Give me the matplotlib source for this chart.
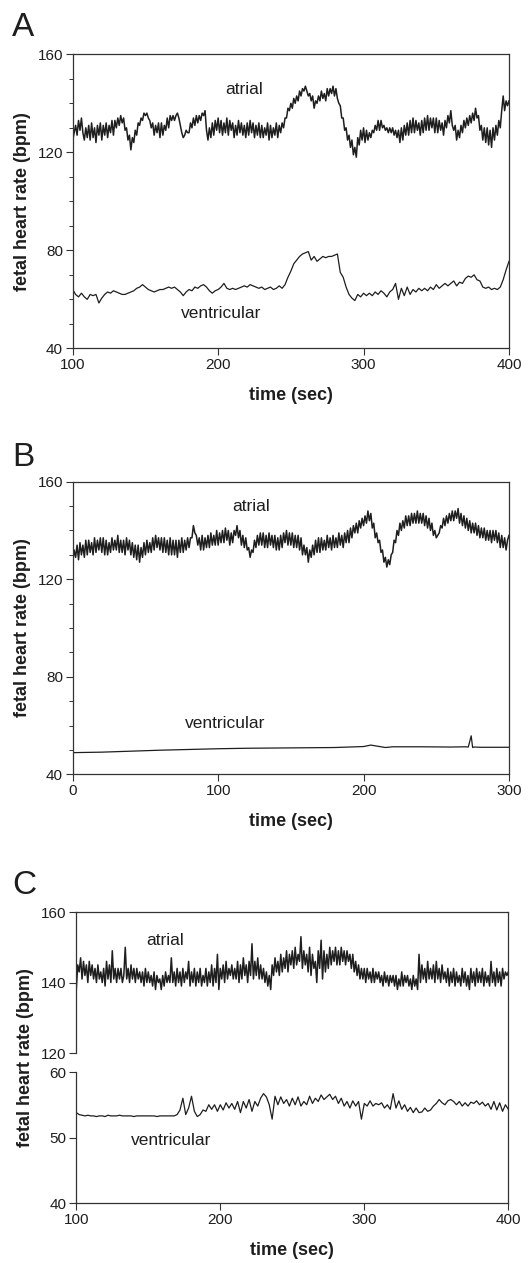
import numpy as np
import matplotlib
matplotlib.use('Agg')
import matplotlib.pyplot as plt
from matplotlib.ticker import MultipleLocator, FixedLocator, FormatStrFormatter
from matplotlib.transforms import blended_transform_factory

plt.rcParams['font.family'] = ['Liberation Sans', 'DejaVu Sans']

INK = '#1e1e1e'

# panel A: atrial read every 1 s, ventricular every 2 s (100-400 s)
t_a = np.arange(100, 401, 1)
atrial_a = [125, 128, 131, 127, 133, 129, 134, 128, 125, 130,
            126, 131, 125, 132, 126, 130, 124, 131, 127, 132,
            125, 131, 127, 132, 126, 131, 128, 133, 127, 133,
            130, 134, 131, 135, 132, 134, 129, 130, 125, 127,
            121, 126, 124, 129, 127, 132, 131, 134, 133, 136,
            135, 136, 134, 133, 130, 132, 127, 131, 128, 132,
            126, 132, 127, 131, 129, 134, 130, 135, 133, 135,
            133, 135, 136, 134, 131, 128, 126, 127, 129, 128,
            128, 132, 130, 134, 131, 135, 132, 135, 133, 136,
            135, 137, 129, 125, 130, 126, 132, 127, 133, 129,
            134, 128, 133, 127, 132, 128, 134, 127, 133, 129,
            132, 126, 131, 127, 133, 128, 132, 127, 131, 126,
            132, 127, 133, 128, 132, 126, 131, 127, 132, 126,
            131, 126, 130, 127, 132, 125, 131, 126, 130, 127,
            132, 126, 131, 128, 132, 130, 134, 134, 138, 137,
            140, 138, 142, 140, 143, 141, 145, 143, 146, 145,
            147, 145, 143, 144, 141, 143, 138, 141, 140, 143,
            141, 145, 142, 144, 141, 146, 143, 146, 144, 147,
            143, 146, 142, 140, 139, 134, 134, 129, 130, 125,
            127, 122, 125, 119, 122, 118, 126, 123, 129, 125,
            130, 124, 129, 125, 128, 126, 129, 128, 131, 129,
            133, 129, 133, 130, 131, 129, 130, 128, 130, 128,
            130, 127, 129, 126, 129, 124, 130, 125, 131, 127,
            132, 127, 133, 128, 134, 128, 133, 129, 132, 127,
            133, 128, 134, 129, 135, 129, 134, 130, 134, 128,
            134, 128, 133, 129, 132, 127, 133, 130, 135, 132,
            137, 131, 129, 131, 125, 129, 126, 131, 128, 133,
            130, 134, 131, 135, 132, 136, 133, 138, 134, 135,
            129, 131, 125, 130, 124, 130, 123, 129, 122, 130,
            125, 131, 127, 133, 130, 137, 143, 137, 141, 139,
            141]
t_av = np.arange(100, 401, 2)
ventricular_a = [64, 62, 61, 62.5, 61, 60, 62, 61.5, 62, 58.5, 60.5, 62, 63, 62.5, 63.5, 63,
                 62.5, 62, 62, 62.5, 63, 63.5, 64.5, 65, 66, 65, 64, 63.5, 63, 63.5, 64, 64,
                 64.5, 65, 64.5, 65, 64, 63, 61.5, 63, 64, 63.5, 65, 64.5, 65.5, 66, 65, 63.5,
                 62.5, 63.5, 64, 65, 66.5, 64.5, 64, 64.5, 64, 64.5, 65, 65.5, 65, 66, 65.5, 65,
                 64.5, 65, 64, 64.5, 65, 64, 64.5, 65.5, 64.5, 66, 69, 71.5, 74.5, 76, 77.5, 78.5,
                 79, 79.5, 76, 77.5, 75.5, 76.5, 77.5, 77, 77.5, 77.5, 78, 78.5, 71, 69, 65, 62,
                 60.5, 59.5, 62, 61, 62.5, 61.5, 62.5, 61.5, 63, 62, 63.5, 62.5, 61, 63, 64, 66.5,
                 60, 64.5, 61.5, 65, 62, 64, 63, 64.5, 63.5, 64.5, 63.5, 65, 64, 66, 64.5, 65.5,
                 66.5, 65.5, 66.5, 67.5, 65.5, 67, 66.5, 68.5, 69.5, 69, 70, 68, 67.5, 65, 64.5,
                 65, 64, 64.5, 64, 65, 68, 72, 75.5]

# panel B: 0-300 s
t_b = np.arange(0, 301, 1)
atrial_b = [127, 132, 129, 134, 128, 135, 130, 134, 129, 136,
            130, 136, 131, 135, 130, 137, 131, 136, 132, 137,
            131, 137, 130, 136, 130, 135, 131, 137, 132, 136,
            132, 138, 131, 136, 131, 136, 130, 137, 132, 136,
            130, 135, 129, 134, 128, 134, 127, 133, 129, 135,
            130, 136, 131, 135, 131, 137, 132, 138, 133, 137,
            132, 137, 131, 137, 131, 136, 130, 137, 130, 136,
            130, 136, 129, 136, 131, 137, 131, 136, 132, 137,
            133, 137, 137, 142, 139, 138, 134, 137, 132, 138,
            132, 137, 133, 138, 133, 139, 134, 138, 134, 140,
            134, 139, 135, 140, 135, 141, 136, 140, 134, 139,
            135, 140, 138, 142, 137, 140, 134, 138, 133, 137,
            132, 133, 129, 132, 131, 136, 133, 138, 134, 139,
            134, 139, 133, 138, 133, 139, 134, 138, 133, 138,
            132, 137, 132, 138, 133, 139, 135, 140, 134, 139,
            134, 139, 133, 138, 133, 138, 132, 137, 130, 134,
            130, 133, 127, 132, 129, 134, 130, 136, 131, 137,
            131, 137, 132, 136, 132, 138, 133, 137, 132, 138,
            133, 137, 133, 139, 134, 138, 133, 139, 135, 140,
            135, 141, 137, 142, 139, 143, 139, 144, 141, 145,
            142, 146, 143, 148, 144, 147, 141, 143, 137, 139,
            135, 136, 131, 132, 127, 129, 125, 128, 126, 130,
            131, 136, 135, 140, 138, 143, 140, 144, 141, 146,
            142, 146, 142, 147, 143, 147, 143, 148, 143, 147,
            143, 147, 142, 146, 141, 145, 140, 143, 138, 140,
            137, 138, 139, 142, 141, 145, 142, 146, 143, 147,
            144, 148, 144, 148, 145, 149, 143, 147, 142, 146,
            141, 145, 140, 144, 139, 143, 139, 143, 138, 142,
            137, 141, 137, 141, 136, 140, 136, 140, 135, 140,
            136, 140, 135, 139, 133, 138, 133, 137, 132, 136,
            138]
t_bv = [0, 20, 40, 60, 80, 100, 120, 140, 160, 180, 200, 205, 210, 215, 220, 240, 260, 270,
        272, 273, 274, 275, 276, 280, 300]
ventricular_b = [48.9, 49.1, 49.5, 49.9, 50.2, 50.5, 50.7, 50.8, 50.9, 51.0, 51.4, 52.0, 51.5,
                 51.0, 51.3, 51.3, 51.2, 51.3, 51.2, 53.5, 55.8, 51.0, 51.2, 51.1, 51.1]

# panel C: 100-400 s, broken y axis
t_c = np.arange(100, 401, 1)
atrial_c = [138, 145, 143, 147, 141, 146, 142, 145, 140, 146,
            142, 145, 141, 144, 140, 145, 141, 143, 140, 144,
            139, 146, 141, 145, 140, 149, 141, 144, 140, 144,
            141, 144, 140, 142, 150, 141, 144, 140, 145, 141,
            144, 140, 144, 141, 143, 140, 143, 139, 144, 140,
            143, 140, 142, 139, 143, 138, 142, 140, 141, 138,
            142, 139, 143, 140, 142, 140, 147, 140, 143, 139,
            144, 140, 143, 139, 144, 140, 143, 141, 146, 139,
            143, 140, 144, 139, 143, 140, 144, 139, 142, 140,
            144, 139, 143, 140, 145, 139, 144, 140, 148, 138,
            144, 141, 145, 140, 146, 141, 144, 142, 145, 141,
            144, 141, 146, 140, 145, 141, 147, 142, 145, 140,
            146, 142, 151, 141, 146, 142, 147, 141, 145, 141,
            144, 140, 143, 139, 142, 138, 145, 142, 147, 143,
            146, 142, 148, 143, 147, 144, 149, 143, 148, 145,
            149, 144, 150, 145, 148, 146, 153, 144, 149, 145,
            148, 143, 150, 142, 148, 144, 146, 140, 149, 144,
            152, 141, 149, 143, 148, 144, 150, 145, 149, 146,
            150, 145, 149, 145, 150, 146, 149, 145, 149, 146,
            148, 144, 148, 143, 146, 142, 145, 141, 144, 141,
            144, 140, 144, 141, 143, 140, 144, 140, 143, 141,
            143, 140, 142, 139, 143, 140, 142, 139, 142, 140,
            142, 139, 142, 138, 141, 139, 143, 139, 142, 140,
            142, 139, 141, 138, 142, 139, 141, 138, 148, 140,
            145, 141, 144, 140, 146, 141, 144, 141, 145, 140,
            146, 141, 144, 140, 145, 141, 143, 140, 144, 139,
            143, 140, 144, 139, 143, 140, 142, 139, 144, 140,
            143, 139, 142, 138, 144, 140, 143, 139, 144, 140,
            143, 140, 144, 139, 143, 140, 142, 139, 146, 140,
            143, 139, 144, 140, 143, 139, 144, 141, 143, 142,
            143]
t_cv = np.arange(100, 401, 2)
ventricular_c = [53.8, 53.5, 53.4, 53.3, 53.4, 53.3, 53.3, 53.2, 53.3, 53.3, 53.2, 53.4, 53.3,
                 53.3, 53.3, 53.4, 53.3, 53.3, 53.3, 53.3, 53.2, 53.3, 53.3, 53.3, 53.3, 53.3,
                 53.3, 53.3, 53.2, 53.3, 53.3, 53.3, 53.3, 53.3, 53.3, 53.5, 54.2, 56.0, 53.5,
                 54.5, 56.3, 54.0, 53.2, 53.5, 54.2, 54.0, 55.0, 54.3, 55.0, 54.0, 55.0, 54.2,
                 55.3, 54.5, 55.2, 54.3, 55.5, 53.8, 55.5, 54.5, 55.8, 54.0, 55.5, 54.8, 56.0,
                 56.7, 56.2, 55.0, 52.8, 56.3, 55.0, 56.2, 55.2, 55.8, 54.8, 56.0, 55.0, 56.2,
                 54.8, 55.5, 55.0, 56.3, 55.2, 56.0, 55.5, 56.5, 55.8, 56.2, 56.6, 55.8, 56.3,
                 55.2, 56.0, 54.8, 55.5, 54.5, 55.6, 54.8, 55.5, 52.8, 55.2, 54.8, 55.6, 54.8,
                 55.2, 55.0, 55.3, 54.5, 55.0, 54.3, 56.7, 54.5, 55.6, 54.3, 55.0, 54.0, 54.6,
                 53.8, 54.5, 53.8, 53.9, 54.5, 54.0, 54.2, 54.8, 55.2, 55.8, 55.3, 55.0, 55.6,
                 55.8, 55.5, 55.0, 55.5, 54.8, 55.3, 54.8, 55.4, 55.2, 55.6, 55.0, 55.4, 54.8,
                 55.2, 54.3, 55.5, 54.2, 55.3, 54.0, 55.0, 54.3]

LABEL_FS = 12.5
ATRIAL_LW = 1.1
VENT_LW = 0.9


def style(ax):
    for s in ax.spines.values():
        s.set_color('#333333')
        s.set_linewidth(0.9)
    ax.tick_params(which='major', direction='out', length=5, width=0.8, color='#333333',
                   labelsize=11, labelcolor=INK, pad=2, right=False, top=False)
    ax.tick_params(which='minor', direction='out', length=3, width=0.7, color='#333333')
    ax.set_xlabel('time (sec)', fontsize=13, fontweight='bold', color=INK, labelpad=11)
    ax.set_ylabel('fetal heart rate (bpm)', fontsize=13, fontweight='bold', color=INK,
                  labelpad=5)


fig = plt.figure(figsize=(5.28, 12.63), dpi=100)

# A
ax_a = fig.add_axes([0.1377, 0.7242, 0.8263, 0.2328])
ax_a.plot(t_a, atrial_a, color=INK, lw=ATRIAL_LW)
ax_a.plot(t_av, ventricular_a, color=INK, lw=VENT_LW)
ax_a.set_xlim(100, 400)
ax_a.set_ylim(40, 160)
ax_a.set_xticks([100, 200, 300, 400])
ax_a.set_yticks([40, 80, 120, 160])
ax_a.yaxis.set_minor_locator(MultipleLocator(10))
ax_a.text(218, 145.5, 'atrial', fontsize=LABEL_FS, color=INK, ha='center', va='center')
ax_a.text(202, 54.4, 'ventricular', fontsize=LABEL_FS, color=INK, ha='center', va='center')
style(ax_a)

# B
ax_b = fig.add_axes([0.1377, 0.3869, 0.8263, 0.2317])
ax_b.plot(t_b, atrial_b, color=INK, lw=ATRIAL_LW)
ax_b.plot(t_bv, ventricular_b, color=INK, lw=VENT_LW)
ax_b.set_xlim(0, 300)
ax_b.set_ylim(40, 160)
ax_b.set_xticks([0, 100, 200, 300])
ax_b.set_yticks([40, 80, 120, 160])
ax_b.yaxis.set_minor_locator(MultipleLocator(10))
ax_b.text(123, 149.8, 'atrial', fontsize=LABEL_FS, color=INK, ha='center', va='center')
ax_b.text(105, 60.7, 'ventricular', fontsize=LABEL_FS, color=INK, ha='center', va='center')
style(ax_b)


# C: piecewise y scale, 40-60 below, 120-160 above
def fwd(y):
    y = np.asarray(y, dtype=float)
    return np.where(y <= 60, (y - 40) * 131 / 20,
                    np.where(y >= 120, 150 + (y - 120) * 141 / 40, 131 + (y - 60) * 19 / 60))


def inv(z):
    z = np.asarray(z, dtype=float)
    return np.where(z <= 131, 40 + z * 20 / 131,
                    np.where(z >= 150, 120 + (z - 150) * 40 / 141, 60 + (z - 131) * 60 / 19))


ax_c = fig.add_axes([0.1445, 0.0475, 0.8182, 0.2304])
ax_c.set_yscale('function', functions=(fwd, inv))
ax_c.plot(t_c, atrial_c, color=INK, lw=ATRIAL_LW)
ax_c.plot(t_cv, ventricular_c, color=INK, lw=VENT_LW)
ax_c.set_xlim(100, 400)
ax_c.set_ylim(40, 160)
ax_c.set_xticks([100, 200, 300, 400])
ax_c.yaxis.set_major_locator(FixedLocator([40, 50, 60, 120, 140, 160]))
ax_c.yaxis.set_minor_locator(FixedLocator([]))
ax_c.yaxis.set_major_formatter(FormatStrFormatter('%d'))
ax_c.text(162, 152, 'atrial', fontsize=LABEL_FS, color=INK, ha='center', va='center')
ax_c.text(166, 49.6, 'ventricular', fontsize=LABEL_FS, color=INK, ha='center', va='center')
style(ax_c)
ax_c.spines['left'].set_visible(False)
tr = blended_transform_factory(ax_c.transAxes, ax_c.transData)
for lo, hi in [(40, 60), (120, 160)]:
    ax_c.plot([0, 0], [lo, hi], color='#333333', lw=0.9, transform=tr, clip_on=False)

# panel letters
for letter, ytop in [('A', 12), ('B', 442), ('C', 870)]:
    fig.text(12 / 528, 1 - ytop / 1263, letter, fontsize=24, color=INK, ha='left', va='top')

fig.savefig('out.png', dpi=100)
